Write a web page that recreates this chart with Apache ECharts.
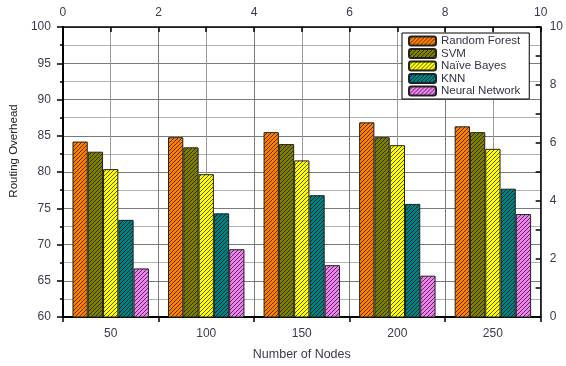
<!DOCTYPE html>
<html>
<head>
<meta charset="utf-8">
<script src="https://cdn.jsdelivr.net/npm/echarts@6/dist/echarts.min.js"></script>
<style>
html,body{margin:0;padding:0;background:#fff;}
#chart{width:566px;height:366px;}
</style>
</head>
<body>
<div id="chart"></div>
<script>
const categories = ['50', '100', '150', '200', '250'];
const seriesNames = ['Random Forest', 'SVM', 'Naïve Bayes', 'KNN', 'Neural Network'];
const randomForest = [84.2, 84.8, 85.5, 86.85, 86.3];
const svm = [82.8, 83.4, 83.85, 84.8, 85.5];
const naiveBayes = [80.4, 79.7, 81.6, 83.7, 83.2];
const knn = [73.4, 74.3, 76.8, 75.6, 77.7];
const neuralNetwork = [66.7, 69.35, 67.15, 65.7, 74.2];
const seriesValues = [randomForest, svm, naiveBayes, knn, neuralNetwork];
const colors = ['#FF8000', '#808000', '#FFFF00', '#008080', '#F080F0'];

function hatch(base) {
  const p = 4;
  const c = document.createElement('canvas');
  c.width = p; c.height = p;
  const g = c.getContext('2d');
  g.fillStyle = base;
  g.fillRect(0, 0, p, p);
  g.strokeStyle = 'rgba(0,0,0,0.85)';
  g.lineWidth = 0.75;
  g.beginPath();
  g.moveTo(-1, p + 1); g.lineTo(p + 1, -1);
  g.moveTo(-1, 1); g.lineTo(1, -1);
  g.moveTo(p - 1, p + 1); g.lineTo(p + 1, p - 1);
  g.stroke();
  return c;
}

const font = 'Liberation Sans';
const labelColor = '#3a3a4e';
const chart = echarts.init(document.getElementById('chart'), null, {renderer: 'canvas'});

const series = seriesNames.map((n, i) => ({
  name: n,
  type: 'bar',
  xAxisIndex: 0,
  yAxisIndex: 0,
  data: seriesValues[i],
  barGap: '0%',
  barCategoryGap: '20%',
  itemStyle: {
    color: {image: hatch(colors[i]), repeat: 'repeat'},
    borderColor: '#222',
    borderWidth: 1
  },
  emphasis: {disabled: true}
}));

chart.setOption({
  animation: false,
  backgroundColor: '#fff',
  textStyle: {fontFamily: font},
  grid: {left: 62, right: 22, top: 27, bottom: 41, containLabel: false},
  legend: {
    orient: 'vertical',
    left: 402,
    top: 33,
    data: seriesNames,
    itemWidth: 27,
    itemHeight: 9,
    itemGap: 0.5,
    padding: [2, 9, 2, 6],
    borderColor: '#000',
    borderWidth: 1,
    backgroundColor: '#fff',
    textStyle: {fontSize: 11.5, color: '#333344', lineHeight: 12, fontFamily: font},
    selectedMode: false
  },
  xAxis: [
    {
      type: 'category',
      position: 'bottom',
      data: categories,
      name: 'Number of Nodes',
      nameLocation: 'middle',
      nameGap: 31,
      nameTextStyle: {fontSize: 12.5, color: labelColor, fontFamily: font},
      axisLine: {lineStyle: {color: '#000', width: 2}},
      axisTick: {show: true, inside: false, length: 5, lineStyle: {color: '#000', width: 1.5}},
      axisLabel: {fontSize: 12, color: labelColor, margin: 11, fontFamily: font},
      splitLine: {show: false}
    },
    {
      type: 'value',
      position: 'top',
      min: 0, max: 10, interval: 2,
      axisLine: {show: true, lineStyle: {color: '#000', width: 1.5}},
      axisTick: {show: true, inside: true, length: 5, lineStyle: {color: '#000', width: 1.5}},
      minorTick: {show: true, splitNumber: 2, length: 5, lineStyle: {color: '#000', width: 1.5}},
      axisLabel: {fontSize: 12, color: labelColor, margin: 8, fontFamily: font},
      splitLine: {show: true, lineStyle: {color: '#7a7a7a', width: 1}},
      minorSplitLine: {show: true, lineStyle: {color: '#9a9a9a', width: 1}}
    }
  ],
  yAxis: [
    {
      type: 'value',
      position: 'left',
      min: 60, max: 100, interval: 5,
      name: 'Routing Overhead',
      nameLocation: 'middle',
      nameGap: 40,
      nameRotate: 90,
      nameTextStyle: {fontSize: 11.5, color: '#222', fontFamily: font, padding: [0, 0, 0, 42]},
      axisLine: {show: true, lineStyle: {color: '#000', width: 2}},
      axisTick: {show: true, inside: false, length: 6, lineStyle: {color: '#000', width: 1.5}},
      minorTick: {show: true, splitNumber: 2, length: 3, lineStyle: {color: '#000', width: 1.5}},
      axisLabel: {fontSize: 12, color: labelColor, margin: 12, fontFamily: font},
      splitLine: {show: true, lineStyle: {color: '#7a7a7a', width: 1}},
      minorSplitLine: {show: true, lineStyle: {color: '#b0b0b0', width: 1}}
    },
    {
      type: 'value',
      position: 'right',
      min: 0, max: 10, interval: 2,
      axisLine: {show: true, lineStyle: {color: '#000', width: 1.5}},
      axisTick: {show: true, inside: true, length: 5, lineStyle: {color: '#000', width: 1.5}},
      minorTick: {show: true, splitNumber: 2, length: 5, lineStyle: {color: '#000', width: 1.5}},
      axisLabel: {fontSize: 12, color: labelColor, margin: 9, fontFamily: font},
      splitLine: {show: false}
    }
  ],
  series: series
});
</script>
</body>
</html>
